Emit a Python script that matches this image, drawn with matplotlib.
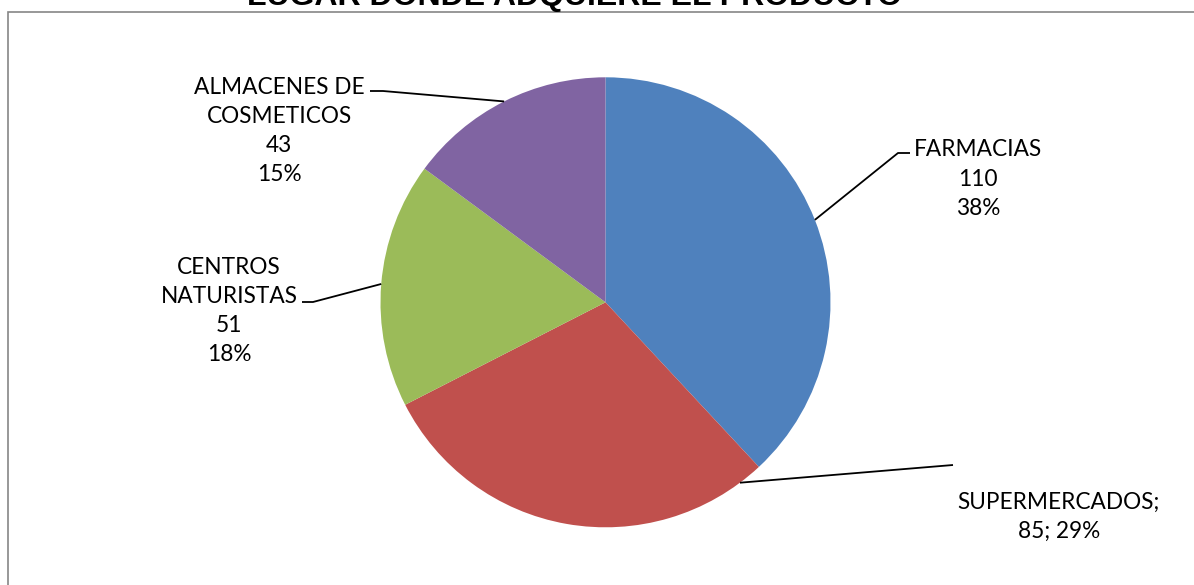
import matplotlib
matplotlib.use("Agg")
import matplotlib.pyplot as plt
from matplotlib.patches import Rectangle
import numpy as np

# Data
categories = ["FARMACIAS", "SUPERMERCADOS", "CENTROS\nNATURISTAS", "ALMACENES DE\nCOSMETICOS"]
values = [110, 85, 51, 43]
colors = ["#4F81BD", "#C0504D", "#9BBB59", "#8064A2"]
title = "LUGAR DONDE ADQUIERE EL PRODUCTO"

W, H = 1194, 585
fig = plt.figure(figsize=(W / 100, H / 100), dpi=100)
ax = fig.add_axes([0, 0, 1, 1])

# Chart area border (runs off the right and bottom edges)
fig.patches.append(Rectangle((8 / W, -0.1), 1.2, (H - 12) / H + 0.1,
                             transform=fig.transFigure, fill=False,
                             edgecolor="#868686", linewidth=1.2))

cx, cy, r = 605.5, H - 302.3, 225
wedges, _ = ax.pie(values, colors=colors, startangle=90, counterclock=False,
                   center=(cx, cy), radius=r, frame=True,
                   wedgeprops=dict(linewidth=0))
ax.set_xlim(0, W)
ax.set_ylim(0, H)
ax.set_aspect("equal")
ax.axis("off")

total = sum(values)
pcts = [round(v / total * 100) for v in values]

label_font = dict(family=["Lato", "DejaVu Sans"], fontsize=16.3, color="black")

# label layout: text centre (x, y from top), leader attach angle, elbow, end
layout = [
    dict(x=978, y=179, ang=None, elbow=(898, 153), end=(910, 153), sep="\n"),
    dict(x=1059, y=517, ang=-53.3, elbow=None, end=(953, 465), sep="; "),
    dict(x=229, y=311, ang=None, elbow=(313, 302), end=(302, 302), sep="\n"),
    dict(x=279, y=131, ang=None, elbow=(383, 91), end=(370, 91), sep="\n"),
]

for w, cat, v, p, lay in zip(wedges, categories, values, pcts, layout):
    if lay["sep"] == "; ":
        txt = f"{cat};\n{v}; {p}%"
    else:
        txt = f"{cat}\n{v}\n{p}%"
    ax.text(lay["x"], H - lay["y"], txt, ha="center", va="center",
            multialignment="center", linespacing=1.48, **label_font)
    ang = lay["ang"] if lay["ang"] is not None else (w.theta1 + w.theta2) / 2
    sx = cx + r * np.cos(np.radians(ang))
    sy = cy + r * np.sin(np.radians(ang))
    xs, ys = [sx], [sy]
    if lay["elbow"] is not None:
        xs.append(lay["elbow"][0]); ys.append(H - lay["elbow"][1])
    xs.append(lay["end"][0]); ys.append(H - lay["end"][1])
    ax.plot(xs, ys, color="black", linewidth=1.3, solid_capstyle="butt")

fig.text(575 / W, (H - 5) / H, title, ha="center", va="baseline",
         family=["Liberation Sans", "DejaVu Sans"], fontweight="bold",
         fontsize=23, color="black")

fig.savefig("out.png", dpi=100)
